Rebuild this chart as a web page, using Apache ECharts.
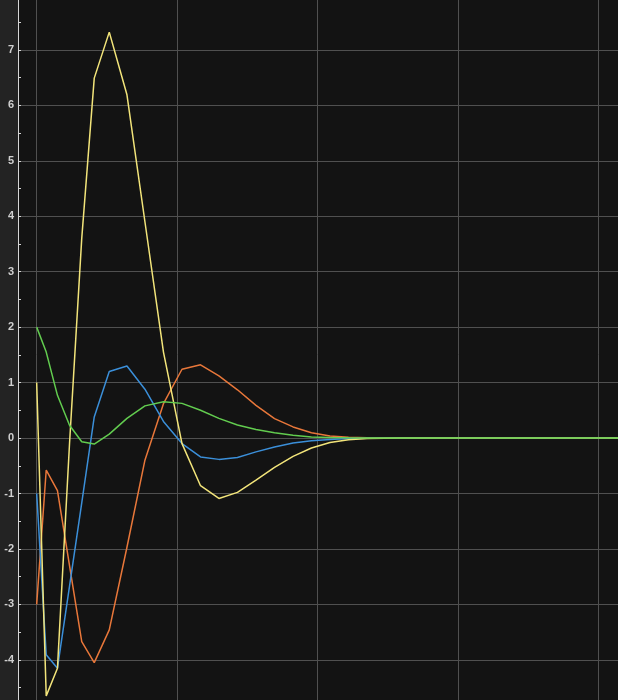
<!DOCTYPE html>
<html>
<head>
<meta charset="utf-8">
<script src="https://cdn.jsdelivr.net/npm/echarts@6/dist/echarts.min.js"></script>
<style>
    html, body { margin: 0; padding: 0; background: #232323; overflow: hidden; }
    body { width: 618px; height: 700px; position: relative; }
    /* chart box is a bit larger than the window so the axis extents fall outside the view */
    #chart { position: absolute; left: 0; top: -30px; width: 660px; height: 760px; }
</style>
</head>
<body>
<div id="chart"></div>
<script>
    // sample times (adaptive steps)
    let tValues = [0, 0.068, 0.148, 0.234, 0.321, 0.410, 0.517, 0.643, 0.771, 0.903, 1.035, 1.167, 1.298, 1.430, 1.562, 1.694, 1.826, 1.957, 2.089, 2.221, 2.353, 2.6, 3.0, 3.4, 3.8, 4.29];

    let blueValues = [-1.0, -3.91, -4.15, -2.67, -1.17, 0.38, 1.2, 1.3, 0.88, 0.3, -0.1, -0.34, -0.385, -0.35, -0.25, -0.16, -0.09, -0.05, -0.025, -0.01, -0.005, 0, 0, 0, 0, 0];
    let orangeValues = [-3.0, -0.577, -0.95, -2.3, -3.67, -4.05, -3.46, -1.97, -0.4, 0.62, 1.24, 1.32, 1.12, 0.87, 0.59, 0.35, 0.2, 0.095, 0.035, 0.012, 0.004, 0, 0, 0, 0, 0];
    let yellowValues = [1.0, -4.65, -4.15, -0.1, 3.6, 6.49, 7.32, 6.19, 3.9, 1.55, -0.1, -0.86, -1.09, -0.98, -0.76, -0.53, -0.33, -0.18, -0.08, -0.03, -0.01, 0, 0, 0, 0, 0];
    let greenValues = [2.0, 1.55, 0.77, 0.23, -0.066, -0.108, 0.07, 0.355, 0.58, 0.655, 0.625, 0.5, 0.355, 0.235, 0.155, 0.095, 0.05, 0.02, 0.008, 0.003, 0.001, 0, 0, 0, 0, 0];

    let myChart = echarts.init(document.getElementById('chart'));

    function pairs(values) {
        let out = [];
        for (let i = 0; i < tValues.length; i++) {
            out.push([tValues[i], values[i]]);
        }
        return out;
    }

    function lineSeries(values, color) {
        return {
            type: 'line',
            data: pairs(values),
            showSymbol: false,
            symbol: 'none',
            lineStyle: { color: color, width: 1.5 },
            itemStyle: { color: color }
        };
    }

    let option = {
        animation: false,
        backgroundColor: '#232323',
        grid: {
            left: 18,
            right: 20,
            top: 24.4,
            bottom: 14.7,
            outerBoundsMode: 'none',
            show: true,
            backgroundColor: '#131313',
            borderWidth: 0
        },
        xAxis: {
            type: 'value',
            min: -0.133,
            max: 4.297,
            minInterval: 1,
            maxInterval: 1,
            axisLine: { show: false },
            axisTick: { show: false },
            axisLabel: { show: false },
            splitLine: { show: true, lineStyle: { color: '#505050', width: 1 } }
        },
        yAxis: {
            type: 'value',
            min: -5,
            max: 8,
            interval: 1,
            axisLine: { show: true, onZero: false, lineStyle: { color: '#d6d6d6', width: 1 } },
            axisTick: { show: true, inside: true, length: 3, lineStyle: { color: '#d6d6d6' } },
            minorTick: { show: true, splitNumber: 2, length: 3, lineStyle: { color: '#d6d6d6' } },
            axisLabel: {
                color: '#d0d0d0',
                fontSize: 11,
                fontWeight: 'bold',
                fontFamily: 'Liberation Sans',
                margin: 4,
                showMaxLabel: false,
                showMinLabel: false
            },
            splitLine: { show: true, lineStyle: { color: '#505050', width: 1 } }
        },
        series: [
            lineSeries(orangeValues, '#e8773a'),
            lineSeries(blueValues, '#3b8fd9'),
            lineSeries(yellowValues, '#f2e47a'),
            lineSeries(greenValues, '#62cc4f')
        ]
    };

    myChart.setOption(option);
</script>
</body>
</html>
